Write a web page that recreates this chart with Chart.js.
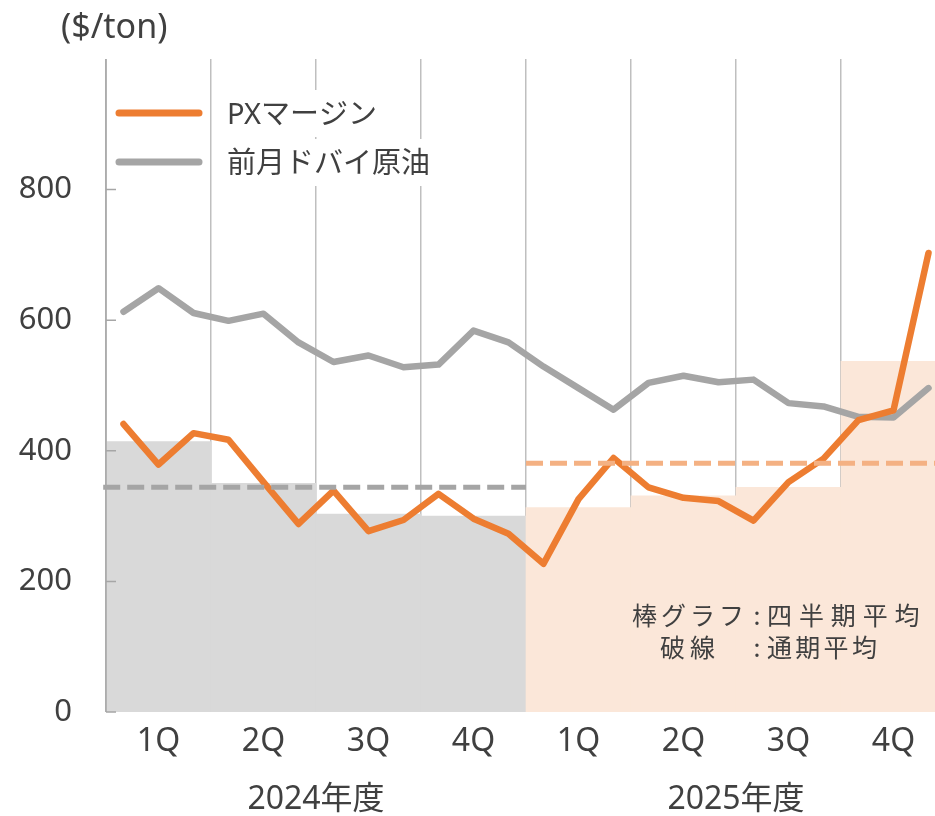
<!DOCTYPE html>
<html>
<head>
<meta charset="utf-8">
<script src="https://cdn.jsdelivr.net/npm/chart.js@4"></script>
<style>
  html, body { margin: 0; padding: 0; background: #fff; overflow: hidden; }
  #chart { display: block; }
</style>
</head>
<body>
<canvas id="chart" width="946" height="816"></canvas>
<script>
// quarterly categories (two fiscal years)
const quarters = ['1Q', '2Q', '3Q', '4Q', '1Q', '2Q', '3Q', '4Q'];
const fiscalYears = ['2024年度', '2025年度'];
// bars: quarterly average PX margin ($/ton)
const quarterAvg = [414, 350, 303, 300, 313, 331, 344, 537];
// dashed lines: full-year average
const annualAvg = [344, 381];
// monthly series, 24 months
const pxMargin = [441, 379, 427, 417, 352, 288, 339, 277, 294, 334, 296, 273,
                  227, 326, 389, 344, 328, 323, 293, 352, 388, 447, 462, 703];
const dubaiCrude = [613, 649, 611, 599, 610, 566, 536, 546, 528, 532, 584, 566,
                    529, 496, 463, 504, 515, 505, 509, 473, 468, 452, 451, 496];
const yTicks = [0, 200, 400, 600, 800];

const FONT = "'Noto Sans', 'Noto Sans CJK JP', sans-serif";
const TEXT = '#404040';
const ORANGE = '#ED7D31';
const GRAY = '#A5A5A5';

const monthly = arr => arr.map((v, i) => ({ x: i + 0.5, y: v }));

const decor = {
  id: 'decor',
  afterDatasetsDraw(chart) {
    const { ctx, chartArea: a, scales } = chart;
    ctx.save();
    // y axis line + inner tick marks
    ctx.strokeStyle = '#A6A6A6';
    ctx.lineWidth = 1.5;
    ctx.beginPath();
    ctx.moveTo(a.left, a.top);
    ctx.lineTo(a.left, a.bottom);
    yTicks.forEach(t => {
      const y = scales.y.getPixelForValue(t);
      ctx.moveTo(a.left, y);
      ctx.lineTo(a.left + 10, y);
    });
    ctx.stroke();
    ctx.restore();
  },
  afterDraw(chart) {
    const { ctx, chartArea: a, scales } = chart;
    ctx.save();

    // unit label
    ctx.fillStyle = TEXT;
    ctx.font = `34px ${FONT}`;
    ctx.textBaseline = 'middle';
    ctx.textAlign = 'left';
    ctx.fillText('($/ton)', 61, 28);

    // legend
    ctx.font = `29px ${FONT}`;
    const items = [
      { text: 'PXマージン', color: ORANGE, y: a.top + 54 },
      { text: '前月ドバイ原油', color: GRAY, y: a.top + 103 }
    ];
    const tx = a.left + 121;
    items.forEach(it => {
      const w = ctx.measureText(it.text).width;
      ctx.fillStyle = '#fff';
      ctx.fillRect(tx - 4, it.y - 23, w + 8, 47);
      ctx.strokeStyle = it.color;
      ctx.lineWidth = 7;
      ctx.lineCap = 'round';
      ctx.beginPath();
      ctx.moveTo(a.left + 13, it.y);
      ctx.lineTo(a.left + 93, it.y);
      ctx.stroke();
      ctx.fillStyle = TEXT;
      ctx.fillText(it.text, tx, it.y + 3);
    });

    // fiscal year labels
    ctx.font = `32px ${FONT}`;
    ctx.textAlign = 'center';
    fiscalYears.forEach((label, i) => {
      ctx.fillText(label, scales.xm.getPixelForValue(i * 12 + 6), 800);
    });

    // note
    ctx.font = `25px 'Noto Sans CJK JP', sans-serif`;
    ctx.textAlign = 'left';
    const colonX = a.left + 651;
    const put = (s, x, y, ls) => { ctx.letterSpacing = ls + 'px'; ctx.fillText(s, x, y); };
    put('棒グラフ', colonX - 125, 615, 4);
    put('破線', colonX - 97, 647, 5);
    ctx.letterSpacing = '0px';
    ctx.textAlign = 'center';
    ctx.fillText(':', colonX, 615);
    ctx.fillText(':', colonX, 647);
    ctx.textAlign = 'left';
    put('四半期平均', colonX + 10, 615, 6.9);
    put('通期平均', colonX + 10, 647, 3.3);
    ctx.restore();
  }
};

const ctx = document.getElementById('chart');
new Chart(ctx, {
  type: 'bar',
  data: {
    labels: quarters,
    datasets: [
      {
        type: 'line', label: '通期平均 2024', xAxisID: 'xm',
        data: [{ x: -0.08, y: annualAvg[0] }, { x: 12, y: annualAvg[0] }],
        borderColor: GRAY, borderWidth: 5, borderDash: [17, 7],
        pointRadius: 0, clip: false, order: 0
      },
      {
        type: 'line', label: '通期平均 2025', xAxisID: 'xm',
        data: [{ x: 12, y: annualAvg[1] }, { x: 24, y: annualAvg[1] }],
        borderColor: '#F4B183', borderWidth: 5, borderDash: [17, 7],
        pointRadius: 0, clip: false, order: 0
      },
      {
        type: 'line', label: 'PXマージン', xAxisID: 'xm',
        data: monthly(pxMargin),
        borderColor: ORANGE, borderWidth: 6.5, pointRadius: 0,
        borderJoinStyle: 'round', borderCapStyle: 'round', order: 1
      },
      {
        type: 'line', label: '前月ドバイ原油', xAxisID: 'xm',
        data: monthly(dubaiCrude),
        borderColor: GRAY, borderWidth: 6.5, pointRadius: 0,
        borderJoinStyle: 'round', borderCapStyle: 'round', order: 2
      },
      {
        type: 'bar', label: '四半期平均', xAxisID: 'x',
        data: quarterAvg,
        backgroundColor: quarterAvg.map((v, i) => i < 4 ? '#D9D9D9' : '#FBE7D9'),
        borderWidth: 0, barPercentage: 1, categoryPercentage: 1, grouped: false, order: 3
      }
    ]
  },
  options: {
    responsive: false,
    animation: false,
    devicePixelRatio: 1,
    layout: { padding: { top: 59, right: 0, bottom: 0, left: 0 } },
    plugins: { legend: { display: false }, tooltip: { enabled: false } },
    scales: {
      x: {
        type: 'category',
        offset: true,
        grid: { display: true, offset: true, color: '#BFBFBF', lineWidth: 1.5, drawTicks: false },
        border: { display: false },
        ticks: { font: { family: FONT, size: 32 }, color: TEXT, padding: 11, maxRotation: 0, autoSkip: false },
        afterFit(s) { s.height = 104; }
      },
      xm: { type: 'linear', display: false, offset: false, min: 0, max: 24, grid: { offset: false } },
      y: {
        min: 0, max: 1000,
        ticks: {
          stepSize: 200,
          callback: v => yTicks.includes(v) ? v : '',
          font: { family: FONT, size: 31 }, color: TEXT, padding: 34
        },
        grid: { display: false, drawTicks: false },
        border: { display: false },
        afterFit(s) { s.width = 106; }
      }
    }
  },
  plugins: [decor]
});
</script>
</body>
</html>
